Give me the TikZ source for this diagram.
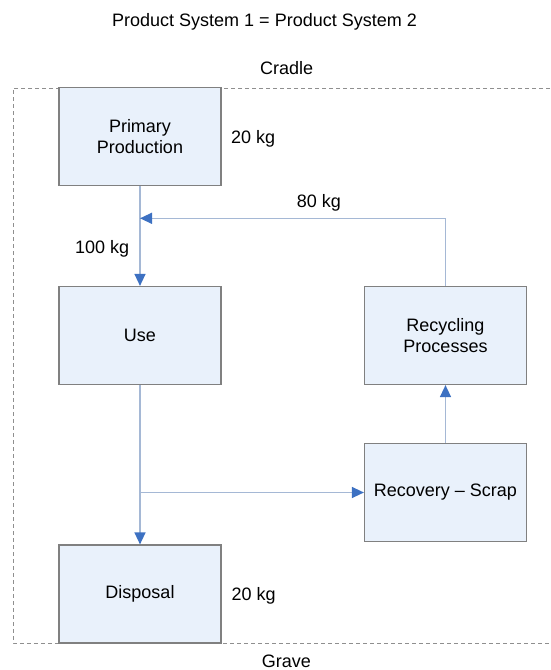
\documentclass[tikz,border=0pt]{standalone}
\usepackage{fontspec}
\setmainfont{Liberation Sans}
\usetikzlibrary{arrows.meta}

\definecolor{boxfill}{HTML}{E9F1FB}
\definecolor{boxline}{HTML}{808080}
\definecolor{flowline}{HTML}{A5B8D5}
\definecolor{tipblue}{HTML}{3D71C2}
\definecolor{bound}{HTML}{8F8F8F}

\begin{document}
\begin{tikzpicture}[x=1pt,y=-1pt,
  stage/.style={draw=boxline, line width=1.2pt, fill=boxfill,
    minimum width=162pt, minimum height=98pt, inner sep=0pt,
    align=center, font=\fontsize{18}{21}\selectfont},
  qty/.style={anchor=base west, inner sep=0pt, font=\fontsize{18}{21}\selectfont},
  flow/.style={draw=flowline, line width=1.4pt,
    -{Triangle[length=12pt,width=11pt,color=tipblue]}},
  boundary/.style={draw=bound, line width=1pt, dash pattern=on 4pt off 3pt}]

\useasboundingbox (0,0) rectangle (550,670);

% system boundary, cradle to grave
\draw[boundary] (550,88) -- (13,88) -- (13,643) -- (550,643);

% process stages
\node[stage] (prim) at (140,136.3) {Primary\\Production};
\node[stage] (use)  at (140,335.5) {Use};
\node[stage] (disp) at (140,594)   {Disposal};
\node[stage] (recy) at (445.5,335.5) {Recycling\\Processes};
\node[stage] (reco) at (445.5,492.5) {Recovery – Scrap};

% junction points on the main flow line
\coordinate (fb) at (140,218.3);
\coordinate (br) at (140,492.5);

% material flows
\draw[flow] (prim) -- (use);
\draw[flow] (recy.north) |- (fb);
\draw[flow] (use) -- (disp);
\draw[flow] (br) -- (reco.west);
\draw[flow] (reco) -- (recy);

% quantities and captions
\node[qty] (q1) at (231,143.3) {20 kg};
\node[qty] (q2) at (296.7,207.5) {80 kg};
\node[qty] (q3) at (75,253.3) {100 kg};
\node[qty] (q4) at (231.5,600) {20 kg};
\node[qty] (title) at (112,26) {Product System 1 = Product System 2};
\node[qty] (cradle) at (260,74) {Cradle};
\node[qty] (grave) at (261.7,667) {Grave};

\end{tikzpicture}
\end{document}
